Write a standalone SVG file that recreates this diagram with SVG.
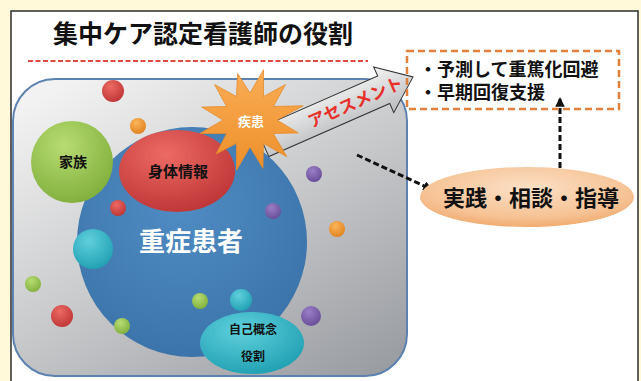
<svg xmlns="http://www.w3.org/2000/svg" width="641" height="381" viewBox="0 0 641 381">
<defs>
<style>
.t{font-family:"Liberation Sans","Noto Sans CJK JP",sans-serif;font-weight:bold;text-anchor:middle}
.l{font-family:"Liberation Sans","Noto Sans CJK JP",sans-serif;font-weight:bold}
.ball{stroke:none}
.dash{fill:none;stroke:#111;stroke-width:3;stroke-dasharray:6 3}
</style>
<linearGradient id="gGray" x1="0.15" y1="0" x2="0.9" y2="1">
<stop offset="0" stop-color="#f2f2f2"/><stop offset="0.5" stop-color="#c8c9cb"/><stop offset="1" stop-color="#9a9da2"/>
</linearGradient>
<radialGradient id="gBlue" cx="0.45" cy="0.35" r="0.7"><stop offset="0" stop-color="#4f8cc3"/><stop offset="1" stop-color="#3a72a8"/></radialGradient>
<radialGradient id="gRed" cx="0.4" cy="0.3" r="0.75"><stop offset="0" stop-color="#ec6a64"/><stop offset="1" stop-color="#bd3434"/></radialGradient>
<radialGradient id="gOrange" cx="0.4" cy="0.3" r="0.75"><stop offset="0" stop-color="#fbb55a"/><stop offset="1" stop-color="#e0801c"/></radialGradient>
<radialGradient id="gPurple" cx="0.4" cy="0.3" r="0.75"><stop offset="0" stop-color="#9a7fc6"/><stop offset="1" stop-color="#664a96"/></radialGradient>
<radialGradient id="gGreen" cx="0.4" cy="0.3" r="0.75"><stop offset="0" stop-color="#b7dc73"/><stop offset="1" stop-color="#7fae3a"/></radialGradient>
<radialGradient id="gCyan" cx="0.4" cy="0.3" r="0.75"><stop offset="0" stop-color="#5fd0dc"/><stop offset="1" stop-color="#1f9fb2"/></radialGradient>
<linearGradient id="gStar" x1="0" y1="0" x2="0" y2="1"><stop offset="0" stop-color="#f9ad55"/><stop offset="1" stop-color="#ee8f2a"/></linearGradient>
<linearGradient id="gArrow" x1="0" y1="0" x2="0" y2="1"><stop offset="0" stop-color="#f4f4f4"/><stop offset="1" stop-color="#b9bbbe"/></linearGradient>
<radialGradient id="gPeach" cx="0.5" cy="0.35" r="0.7"><stop offset="0" stop-color="#fbe0c6"/><stop offset="0.7" stop-color="#f6c294"/><stop offset="1" stop-color="#f0a566"/></radialGradient>
<marker id="ah" viewBox="0 0 10 10" refX="8" refY="5" markerWidth="3.2" markerHeight="3.2" orient="auto" markerUnits="strokeWidth">
<path d="M0,0 L10,5 L0,10 z" fill="#111"/>
</marker>
</defs>
<rect x="0" y="0" width="641" height="381" fill="#fff9d9"/>
<rect x="11" y="11" width="627" height="380" fill="#ffffff" stroke="#2b2b2b" stroke-width="1.5"/>
<g id="title">
<text class="t" x="203" y="43" font-size="25" fill="#111">集中ケア認定看護師の役割</text>
<line x1="28" y1="61" x2="368" y2="61" stroke="#e04a44" stroke-width="2" stroke-dasharray="5 2.5"/>
</g>
<g id="field">
<rect x="13" y="79" width="394" height="297" rx="42" ry="42" fill="url(#gGray)" stroke="#5b82b0" stroke-width="2"/>
</g>
<g id="patient">
<circle cx="192" cy="242" r="115" fill="url(#gBlue)"/>
<text class="t" x="191" y="251" font-size="26" fill="#ffffff">重症患者</text>
</g>
<g id="balls">
<circle class="ball" cx="113" cy="91" r="11" fill="url(#gRed)"/>
<circle class="ball" cx="138" cy="126" r="8" fill="url(#gOrange)"/>
<circle class="ball" cx="314" cy="174" r="8" fill="url(#gPurple)"/>
<circle class="ball" cx="273" cy="211" r="8" fill="url(#gPurple)"/>
<circle class="ball" cx="118" cy="208" r="8" fill="url(#gRed)"/>
<circle class="ball" cx="337" cy="229" r="8" fill="url(#gOrange)"/>
<circle class="ball" cx="93" cy="249" r="20" fill="url(#gCyan)"/>
<circle class="ball" cx="33" cy="284" r="8" fill="url(#gGreen)"/>
<circle class="ball" cx="62" cy="316" r="11" fill="url(#gRed)"/>
<circle class="ball" cx="122" cy="326" r="8" fill="url(#gGreen)"/>
<circle class="ball" cx="200" cy="301" r="8" fill="url(#gGreen)"/>
<circle class="ball" cx="241" cy="300" r="11" fill="url(#gCyan)"/>
<circle class="ball" cx="311" cy="316" r="10" fill="url(#gPurple)"/>
</g>
<g id="family">
<circle cx="72" cy="162" r="41" fill="url(#gGreen)"/>
<text class="t" x="73" y="167" font-size="14" fill="#111">家族</text>
</g>
<g id="body-info">
<ellipse cx="177" cy="171" rx="58" ry="41" fill="url(#gRed)"/>
<text class="t" x="178" y="177" font-size="15" fill="#111">身体情報</text>
</g>
<g id="connectors">
<g transform="translate(283,134) rotate(-23.7)">
<path d="M-22,-15 L110,-15 L110,-25 L142,0 L110,25 L110,15 L-22,15 z" fill="url(#gArrow)" stroke="#333" stroke-width="1"/>
<text class="t" x="79" y="6" font-size="17" fill="#e8302a">アセスメント</text>
</g>
<path class="dash" d="M357,155 L431,189" marker-end="url(#ah)"/>
<path class="dash" d="M560,177 L560,99" marker-end="url(#ah)"/>
</g>
<g id="disease">
<polygon points="263.5,69.8 263.5,96.6 285.4,84.6 273.4,106.5 303.1,105.8 277,120 298.3,132.9 273.4,133.5 286.8,156.8 263.5,143.4 262.9,168.3 250,147 236.5,170.2 236.5,143.4 216.1,153.9 226.6,133.5 199.8,133.5 223,120 201.7,107.1 226.6,106.5 214.6,84.6 236.5,96.6 237.6,73.6 250,93" fill="url(#gStar)" stroke="#e58a2a" stroke-width="0.8"/>
<text class="t" x="251" y="126" font-size="13" fill="#ffffff">疾患</text>
</g>
<g id="self-concept">
<ellipse cx="252" cy="343" rx="52" ry="31" fill="url(#gCyan)"/>
<text class="t" x="253" y="334" font-size="12" fill="#111">自己概念</text>
<text class="t" x="253" y="361" font-size="12" fill="#111">役割</text>
</g>
<g id="goals">
<rect x="407" y="51" width="212" height="58" fill="none" stroke="#e0803a" stroke-width="2.5" stroke-dasharray="7 4"/>
<text class="l" x="419" y="76" font-size="18" fill="#111">・予測して重篤化回避</text>
<text class="l" x="419" y="99" font-size="18" fill="#111">・早期回復支援</text>
</g>
<g id="practice">
<ellipse cx="527" cy="197" rx="107" ry="30" fill="url(#gPeach)"/>
<text class="t" x="531" y="206" font-size="22" fill="#111">実践・相談・指導</text>
</g>
</svg>
